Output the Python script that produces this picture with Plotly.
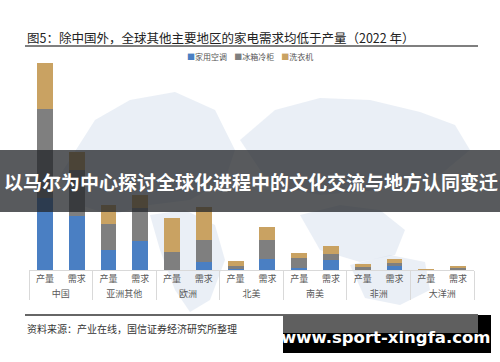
import plotly.graph_objects as go

# ---- data (relative units) ----
regions = ["中国", "亚洲其他", "欧洲", "北美", "南美", "非洲", "大洋洲"]
kinds = ["产量", "需求"]
series_names = ["家用空调", "冰箱冷柜", "洗衣机"]
series_colors = ["#4a7fc3", "#7f7f7f", "#c9a262"]

ac_vals =     [72, 54, 20, 29, 0.5, 8, 1, 11, 2, 10, 0.5, 4, 0.2, 0.3]
fridge_vals = [89, 46, 26, 33, 17.5, 22, 3, 19, 10, 6, 2.5, 3, 0.3, 2.5]
washer_vals = [46, 18, 19, 13, 34, 33, 5, 13, 5, 8, 3, 4, 0.5, 1.5]

title_text = "图5：除中国外，全球其他主要地区的家电需求均低于产量（2022 年）"
source_text = "资料来源：产业在线，国信证券经济研究所整理"
banner_text = "以马尔为中心探讨全球化进程中的文化交流与地方认同变迁"
watermark_text = "www.sport-xingfa.com"

W, H = 500, 362
ML, MR, MT, MB = 29, 26, 60, 92
PW, PH = W - ML - MR, H - MT - MB

def px(x):
    return (x - ML) / PW

def py(y):
    return (H - MB - y) / PH

FONT = "Noto Sans CJK SC"

xcat = [[r for r in regions for _ in kinds], [k for _ in regions for k in kinds]]

fig = go.Figure()
for name, color, vals in zip(series_names, series_colors, [ac_vals, fridge_vals, washer_vals]):
    fig.add_trace(go.Bar(x=xcat, y=vals, name=name, marker=dict(color=color, line=dict(width=0)),
                         showlegend=False))

fig.update_layout(
    width=W, height=H,
    margin=dict(l=ML, r=MR, t=MT, b=MB),
    barmode="stack", bargap=0.5,
    plot_bgcolor="rgba(0,0,0,0)", paper_bgcolor="white",
    font=dict(family=FONT, size=9, color="#595959"),
    xaxis=dict(type="multicategory", showline=True, linecolor="#d9d9d9", linewidth=1,
               showdividers=True, dividercolor="#d9d9d9", dividerwidth=1,
               tickfont=dict(size=9, color="#595959"), ticks="", showgrid=False),
    yaxis=dict(range=[0, PH], visible=False, showgrid=False),
)

# faint world-map watermark in the background (decorative)
MAPC = "rgba(214,224,238,0.5)"
def blob(pts):
    d = "M " + " L ".join(f"{px(a):.4f},{py(b):.4f}" for a, b in pts) + " Z"
    return dict(type="path", xref="paper", yref="paper", path=d, fillcolor=MAPC,
                line=dict(width=0), layer="below")

map_blobs = [
    [(60, 175), (95, 120), (130, 100), (175, 92), (215, 110), (235, 150), (225, 180), (190, 200),
     (150, 205), (110, 215), (80, 205)],
    [(240, 140), (275, 110), (320, 98), (370, 100), (420, 112), (455, 125), (470, 150),
     (440, 175), (380, 190), (320, 195), (270, 185)],
    [(150, 215), (185, 210), (215, 225), (225, 260), (210, 300), (190, 312), (175, 290),
     (160, 250)],
    [(300, 215), (340, 205), (380, 210), (405, 230), (395, 255), (360, 262), (320, 250)],
    [(350, 265), (390, 255), (425, 262), (430, 290), (400, 305), (365, 298)],
]

legend_html = "    ".join(
    f"<span style='color:{c}'>■</span>{n}" for n, c in zip(series_names, series_colors))
annotations = [
    dict(text=title_text, x=px(25), y=py(38), xref="paper", yref="paper", xanchor="left",
         yanchor="middle", showarrow=False, font=dict(size=12.5, color="#222", family=FONT)),
    dict(text=legend_html, x=px(250), y=py(56), xref="paper", yref="paper", xanchor="center",
         yanchor="middle", showarrow=False, font=dict(size=8, color="#555", family=FONT)),
    dict(text=source_text, x=px(25), y=py(328), xref="paper", yref="paper", xanchor="left",
         yanchor="middle", showarrow=False, font=dict(size=10, color="#333", family=FONT)),
    dict(text="<b>" + banner_text + "</b>", x=px(251), y=py(181), xref="paper", yref="paper",
         xanchor="center", yanchor="middle", showarrow=False,
         font=dict(size=19, color="white", family=FONT)),
    dict(text="<b>" + watermark_text + "</b>", x=px(386), y=py(337), xref="paper", yref="paper",
         xanchor="center", yanchor="middle", showarrow=False,
         font=dict(size=16.5, color="white", family="DejaVu Sans")),
]
shapes = [blob(b) for b in map_blobs] + [
    dict(type="line", xref="paper", yref="paper", x0=px(25), x1=px(478), y0=py(46), y1=py(46),
         line=dict(color="#555", width=1.5)),
    dict(type="line", xref="paper", yref="paper", x0=px(25), x1=px(478), y0=py(315), y1=py(315),
         line=dict(color="#666", width=2)),
    dict(type="rect", xref="paper", yref="paper", x0=px(0), x1=px(500), y0=py(212), y1=py(150),
         fillcolor="rgba(36,38,42,0.76)", line=dict(width=0), layer="above"),
    dict(type="rect", xref="paper", yref="paper", x0=px(283), x1=px(491), y0=py(353), y1=py(315),
         fillcolor="#000000", line=dict(width=0), layer="above"),
    dict(type="rect", xref="paper", yref="paper", x0=px(283), x1=px(478), y0=py(333), y1=py(315),
         fillcolor="#5f5f5f", line=dict(width=0), layer="above"),
]
fig.update_layout(annotations=annotations, shapes=shapes)

fig.write_html("out.html")
